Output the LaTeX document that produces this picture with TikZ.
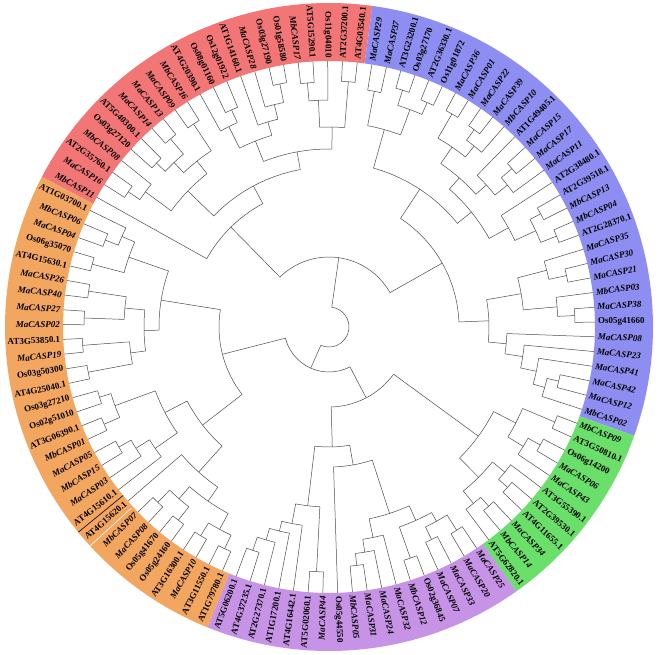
\documentclass[tikz,border=0pt]{standalone}
\usepackage{fontspec}
\setmainfont{Liberation Serif}
\definecolor{redc}{HTML}{F27676}
\definecolor{bluec}{HTML}{8E8EF2}
\definecolor{greenc}{HTML}{6ADF6A}
\definecolor{purpc}{HTML}{C693E6}
\definecolor{orac}{HTML}{F3A660}
\newcommand\tipR{266}
\newcommand\leaf[1]{\expandafter\xdef\csname P#1\endcsname{#1}\expandafter\xdef\csname R#1\endcsname{\tipR}}
\newcommand\clade[3]{%
  \gdef\cfirst{}%
  \foreach \c in {#3}{%
    \ifx\cfirst\empty \xdef\cfirst{\csname P\c\endcsname}\fi
    \xdef\clast{\csname P\c\endcsname}%
    \pgfmathsetmacro\aa{152.4-(\csname P\c\endcsname-0.5)*3.18584}%
    \draw[br] (\aa:#2pt) -- (\aa:\csname R\c\endcsname pt);
  }%
  \pgfmathsetmacro\pa{152.4-(\cfirst-0.5)*3.18584}%
  \pgfmathsetmacro\pb{152.4-(\clast-0.5)*3.18584}%
  \draw[br] (\pa:#2pt) arc[start angle=\pa, end angle=\pb, radius=#2pt];
  \pgfmathsetmacro\pmid{(\cfirst+\clast)/2}%
  \expandafter\xdef\csname P#1\endcsname{\pmid}%
  \expandafter\xdef\csname R#1\endcsname{#2}%
}
\newcommand\sector[3]{%
  \fill[#3] (#1:266pt) arc[start angle=#1,end angle=#2,radius=266pt] -- (#2:324pt) arc[start angle=#2,end angle=#1,radius=324pt] -- cycle;}
\begin{document}
\begin{tikzpicture}[x=1pt,y=1pt,
  br/.style={draw=black!70,line width=0.5pt},
  lab/.style={font=\fontsize{9}{9}\selectfont\bfseries,inner sep=0pt},
  it/.style={font=\fontsize{9}{9}\selectfont\bfseries\itshape},
  rm/.style={}]
\useasboundingbox (-329,-327) rectangle (330,327);
\fill[white] (-329,-327) rectangle (330,327);
\sector{152.4}{82.31}{redc}
\sector{82.31}{-19.62}{bluec}
\sector{-19.62}{-54.67}{greenc}
\sector{-54.67}{-112.01}{purpc}
\sector{-112.01}{-207.6}{orac}
\draw[black,line width=0.6pt] (-140.7:266pt) -- (-140.7:324pt);
\draw[white,line width=0.6pt] (-137.5:268pt) -- (-137.5:324pt);
\foreach \i/\t/\s in {
1/MbCASP11/it,2/MaCASP16/it,3/AT2G35760.1/rm,4/MbCASP08/it,5/Os03g27120/rm,6/AT5G40300.1/rm,7/MaCASP14/it,8/MaCASP13/it,9/MaCASP09/it,10/MbCASP16/it,
11/AT4G20390.1/rm,12/Os08g01160/rm,13/Os12g01922/rm,14/AT1G14160.1/rm,15/MaCASP28/it,16/Os03g27190/rm,17/Os01g58580/rm,18/MbCASP17/it,19/AT5G15290.1/rm,20/Os11g04010/rm,
21/AT2G37200.1/rm,22/AT4G03540.1/rm,23/MaCASP29/it,24/MaCASP37/it,25/AT3G23200.1/rm,26/Os03g27170/rm,27/AT2G36330.1/rm,28/Os11g01872/rm,29/MaCASP36/it,30/MaCASP01/it,
31/MaCASP22/it,32/MaCASP39/it,33/MbCASP10/it,34/AT1G49405.1/rm,35/MaCASP15/it,36/MaCASP17/it,37/MaCASP11/it,38/AT2G38480.1/rm,39/AT2G39518.1/rm,40/MbCASP13/it,
41/MbCASP04/it,42/AT2G28370.1/rm,43/MaCASP35/it,44/MaCASP30/it,45/MaCASP21/it,46/MbCASP03/it,47/MaCASP38/it,48/Os05g41660/rm,49/MaCASP08/it,50/MaCASP23/it,
51/MaCASP41/it,52/MaCASP42/it,53/MaCASP12/it,54/MbCASP02/it,55/MbCASP09/it,56/AT3G50810.1/rm,57/Os06g14200/rm,58/MaCASP06/it,59/MaCASP43/it,60/AT3G55390.1/rm,
61/AT2G39530.1/rm,62/AT4G11655.1/rm,63/MaCASP34/it,64/MbCASP14/it,65/AT5G62820.1/rm,66/MaCASP25/it,67/MaCASP20/it,68/MaCASP33/it,69/MaCASP07/it,70/Os02g36845/rm,
71/MbCASP12/it,72/MaCASP32/it,73/MaCASP24/it,74/MaCASP31/it,75/MbCASP05/it,76/Os05g44550/rm,77/MaCASP44/it,78/AT5G02060.1/rm,79/AT4G16442.1/rm,80/AT1G17200.1/rm,
81/AT2G27370.1/rm,82/AT4G37235.1/rm,83/AT5G06200.1/rm,84/AT1G79780.1/rm,85/AT3G11550.1/rm,86/MaCASP10/it,87/AT3G16300.1/rm,88/Os05g24160/rm,89/Os05g41670/rm,90/MaCASP08/it,
91/MbCASP07/it,92/AT4G15620.1/rm,93/AT4G15610.1/rm,94/MaCASP03/it,95/MbCASP15/it,96/MaCASP05/it,97/MbCASP01/it,98/AT3G06390.1/rm,99/Os02g51010/rm,100/Os03g27210/rm,
101/AT4G25040.1/rm,102/Os03g50300/rm,103/MaCASP19/it,104/AT3G53850.1/rm,105/MaCASP02/it,106/MaCASP27/it,107/MaCASP40/it,108/MaCASP26/it,109/AT4G15630.1/rm,110/Os06g35070/rm,
111/MaCASP04/it,112/MbCASP06/it,113/AT1G03700.1/rm}{
  \pgfmathsetmacro\a{152.4-(\i-0.5)*3.18584}
  \pgfmathtruncatemacro\fl{(\a>90 || \a<-90) ? 1 : 0}
  \ifnum\fl=1
    \node[lab,\s,anchor=east,rotate=\a+180] (l\i) at (\a:269pt) {\t};
  \else
    \node[lab,\s,anchor=west,rotate=\a] (l\i) at (\a:269pt) {\t};
  \fi
}
\foreach \i in {1,...,113}{\leaf{\i}}
% red
\clade{a1}{242}{2,3}
\clade{a2}{228}{4,a1}
\clade{a3}{238}{5,6}
\clade{a4}{246}{7,8}
\clade{a5}{226}{a3,a4}
\clade{a6}{244}{9,10}
\clade{a7}{212}{a5,a6}
\clade{a8}{196}{a2,a7}
\clade{a9}{238}{12,13}
\clade{a10}{224}{11,a9}
\clade{a11}{248}{16,17}
\clade{a12}{229}{15,a11}
\clade{a13}{214}{14,a12}
\clade{a14}{200}{a10,a13}
\clade{a15}{245}{18,19}
\clade{a16}{227}{a15,20}
\clade{a17}{246}{21,22}
\clade{a18}{200}{a16,a17}
\clade{a19}{178}{a14,a18}
\clade{a20}{160}{a8,a19}
\clade{RED}{140}{1,a20}
% blue
\clade{b1}{240}{23,24}
\clade{b2}{248}{25,26}
\clade{b3}{245}{27,28}
\clade{b4}{232}{b2,b3}
\clade{b5}{205}{b1,b4}
\clade{b6}{246}{29,30}
\clade{b7}{245}{31,32}
\clade{b8}{232}{b7,33}
\clade{b9}{218}{b6,b8}
\clade{b10}{242}{35,36}
\clade{b11}{228}{b10,37}
\clade{b12}{212}{34,b11}
\clade{b13}{198}{b9,b12}
\clade{b14}{240}{39,40}
\clade{b15}{245}{41,42}
\clade{b16}{228}{b14,b15}
\clade{b17}{205}{38,b16}
\clade{b18}{183}{b13,b17}
\clade{b19}{165}{b5,b18}
\clade{b20}{243}{44,45}
\clade{b21}{225}{43,b20}
\clade{b22}{246}{47,48}
\clade{b23}{229}{46,b22}
\clade{b24}{195}{b21,b23}
\clade{b25}{236}{52,53}
\clade{b26}{224}{b25,54}
\clade{b27}{212}{51,b26}
\clade{b28}{196}{50,b27}
\clade{b29}{178}{49,b28}
\clade{b30}{160}{b24,b29}
\clade{BLUE}{130}{b19,b30}
% green
\clade{g1}{245}{55,56}
\clade{g2}{242}{57,58}
\clade{g3}{228}{g2,59}
\clade{g4}{210}{g1,g3}
\clade{g5}{240}{61,62}
\clade{g6}{228}{60,g5}
\clade{g7}{240}{63,64}
\clade{g8}{228}{g7,65}
\clade{g9}{212}{g6,g8}
\clade{GREEN}{185}{g4,g9}
% purple
\clade{p12}{240}{66,67}
\clade{p11}{236}{68,69}
\clade{p13}{222}{p12,p11}
\clade{p10}{245}{70,71}
\clade{p14}{212}{p13,p10}
\clade{p7}{240}{74,75}
\clade{p8}{228}{73,p7}
\clade{p9}{215}{72,p8}
\clade{p15}{196}{p14,p9}
\clade{p16}{140}{p15,76}
\clade{p5}{245}{77,78}
\clade{p1}{236}{82,83}
\clade{p2}{222}{81,p1}
\clade{p3}{210}{80,p2}
\clade{p4}{200}{79,p3}
\clade{p6}{180}{p5,p4}
\clade{PURPLE}{120}{p16,p6}
% orange
\clade{o1}{245}{84,85}
\clade{o2}{245}{86,87}
\clade{o3}{230}{o1,o2}
\clade{o4}{245}{88,89}
\clade{o5}{245}{90,91}
\clade{o6}{228}{o4,o5}
\clade{o7}{212}{o3,o6}
\clade{o8}{195}{o7,92}
\clade{o12}{242}{95,96}
\clade{o13}{228}{94,o12}
\clade{o14}{212}{93,o13}
\clade{o10}{245}{97,98}
\clade{o9}{240}{99,100}
\clade{o11}{228}{o10,o9}
\clade{o15}{185}{o14,o11}
\clade{o16}{245}{101,102}
\clade{o17}{247}{103,104}
\clade{o18}{245}{105,106}
\clade{o19}{243}{107,108}
\clade{o20}{245}{109,110}
\clade{o21}{240}{111,112}
\clade{o22}{226}{o21,113}
\clade{o23}{212}{o20,o22}
\clade{o24}{205}{o18,o19}
\clade{o25}{200}{o16,o17}
\clade{o26}{185}{o25,o24}
\clade{o27}{170}{o26,o23}
\clade{o28}{160}{o8,o15}
\clade{ORANGE}{110}{o28,o27}
% deep
\clade{UP}{70}{RED,BLUE}
\clade{GP}{80}{GREEN,PURPLE}
\clade{DOWN}{45}{GP,ORANGE}
\clade{root}{20}{UP,DOWN}
\end{tikzpicture}
\end{document}
